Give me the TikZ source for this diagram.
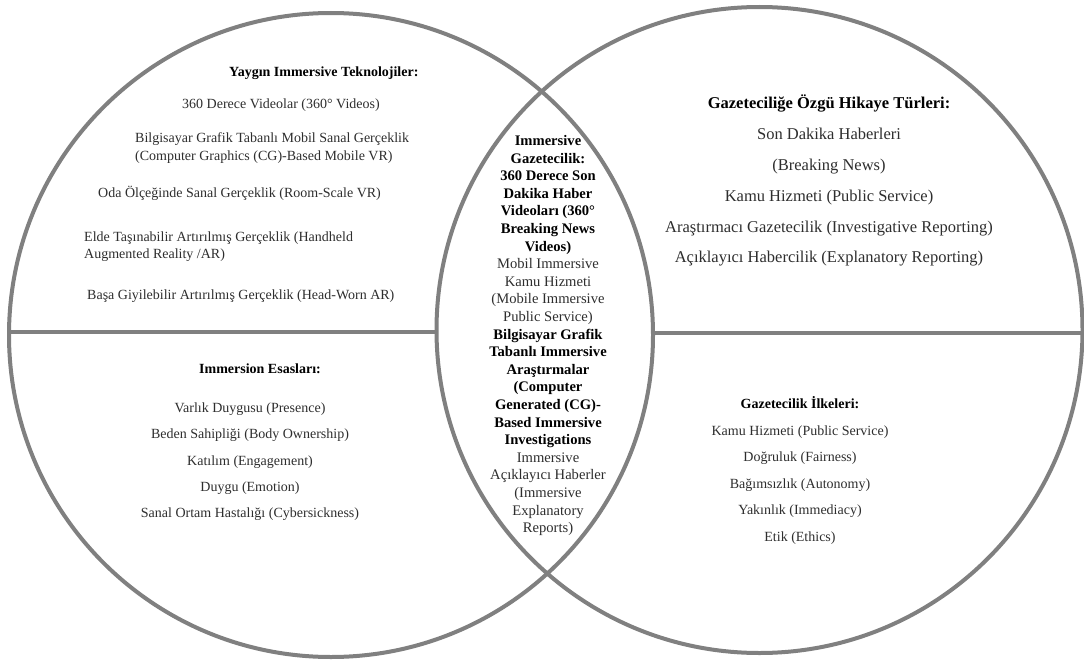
\documentclass[tikz,border=0pt]{standalone}
\usepackage{fontspec}
\setmainfont{Liberation Serif}
\definecolor{ring}{HTML}{808080}
\definecolor{txt}{HTML}{2E2E2E}
\tikzset{
  ringline/.style={draw=ring, line width=4pt},
  itm/.style={inner sep=0pt, anchor=base, text=txt, font=\fontsize{14}{17.5}\selectfont},
  itmw/.style={itm, anchor=base west},
  hdr/.style={inner sep=0pt, anchor=base, text=black, font=\fontsize{14}{17.5}\selectfont\bfseries},
  hdrw/.style={hdr, anchor=base west},
  bigitm/.style={itm, font=\fontsize{16.5}{20}\selectfont},
  bighdr/.style={hdr, font=\fontsize{16.5}{20}\selectfont\bfseries},
  lb/.style={hdr, font=\fontsize{14.6}{17.6}\selectfont\bfseries},
  lr/.style={itm, font=\fontsize{14.6}{17.6}\selectfont},
}
\begin{document}
\begin{tikzpicture}[x=1pt,y=-1pt]
\useasboundingbox (0,0) rectangle (1084,661);
\fill[white] (0,0) rectangle (1084,661);

% circles
\node[circle, ringline, minimum size=644pt, inner sep=0pt] (L) at (331,335) {};
\node[circle, ringline, minimum size=646pt, inner sep=0pt] (R) at (759.5,330) {};

% dividing lines
\coordinate (l1) at (9,331.5);
\coordinate (l2) at (436.5,331.5);
\coordinate (r1) at (653,332.5);
\coordinate (r2) at (1084,332.5);
\draw[ringline] (l1) -- (l2);
\draw[ringline] (r1) -- (r2);

% top left
\node[hdrw] (tlh) at (229,76.5) {Yaygın Immersive Teknolojiler:};
\node[itmw] (tl1) at (182,108.5) {360 Derece Videolar (360° Videos)};
\node[itmw] (tl2a) at (135,142.5) {Bilgisayar Grafik Tabanlı Mobil Sanal Gerçeklik};
\node[itmw] (tl2b) at (135,160) {(Computer Graphics (CG)-Based Mobile VR)};
\node[itmw] (tl3) at (98,197.5) {Oda Ölçeğinde Sanal Gerçeklik (Room-Scale VR)};
\node[itmw] (tl4a) at (84,241) {Elde Taşınabilir Artırılmış Gerçeklik (Handheld};
\node[itmw] (tl4b) at (84,258.5) {Augmented Reality /AR)};
\node[itmw] (tl5) at (87,299.5) {Başa Giyilebilir Artırılmış Gerçeklik (Head-Worn AR)};

% top right
\node[bighdr] (trh) at (829,108.5) {Gazeteciliğe Özgü Hikaye Türleri:};
\node[bigitm] (tr1) at (829,139.5) {Son Dakika Haberleri};
\node[bigitm] (tr2) at (829,170.5) {(Breaking News)};
\node[bigitm] (tr3) at (829,201.5) {Kamu Hizmeti (Public Service)};
\node[bigitm] (tr4) at (829,232) {Araştırmacı Gazetecilik (Investigative Reporting)};
\node[bigitm] (tr5) at (829,262.5) {Açıklayıcı Habercilik (Explanatory Reporting)};

% bottom left
\node[hdr] (blh) at (260,373.5) {Immersion Esasları:};
\node[itm] (bl1) at (250,412.5) {Varlık Duygusu (Presence)};
\node[itm] (bl2) at (250,438.5) {Beden Sahipliği (Body Ownership)};
\node[itm] (bl3) at (250,465) {Katılım (Engagement)};
\node[itm] (bl4) at (250,491.5) {Duygu (Emotion)};
\node[itm] (bl5) at (250,517.5) {Sanal Ortam Hastalığı (Cybersickness)};

% bottom right
\node[hdr] (brh) at (800,408.5) {Gazetecilik İlkeleri:};
\node[itm] (br1) at (800,435.5) {Kamu Hizmeti (Public Service)};
\node[itm] (br2) at (800,461.5) {Doğruluk (Fairness)};
\node[itm] (br3) at (800,488.5) {Bağımsızlık (Autonomy)};
\node[itm] (br4) at (800,514.5) {Yakınlık (Immediacy)};
\node[itm] (br5) at (800,541) {Etik (Ethics)};

% lens
\foreach \t/\f [count=\i from 0] in {
  {Immersive}/lb, {Gazetecilik:}/lb, {360 Derece Son}/lb, {Dakika Haber}/lb,
  {Videoları (360°}/lb, {Breaking News}/lb, {Videos)}/lb,
  {Mobil Immersive}/lr, {Kamu Hizmeti}/lr, {(Mobile Immersive}/lr, {Public Service)}/lr,
  {Bilgisayar Grafik}/lb, {Tabanlı Immersive}/lb, {Araştırmalar}/lb, {(Computer}/lb,
  {Generated (CG)-}/lb, {Based Immersive}/lb, {Investigations}/lb,
  {Immersive}/lr, {Açıklayıcı Haberler}/lr, {(Immersive}/lr, {Explanatory}/lr, {Reports)}/lr}
  \node[\f] (c\i) at (548,145.5+17.6*\i) {\t};
\end{tikzpicture}
\end{document}
